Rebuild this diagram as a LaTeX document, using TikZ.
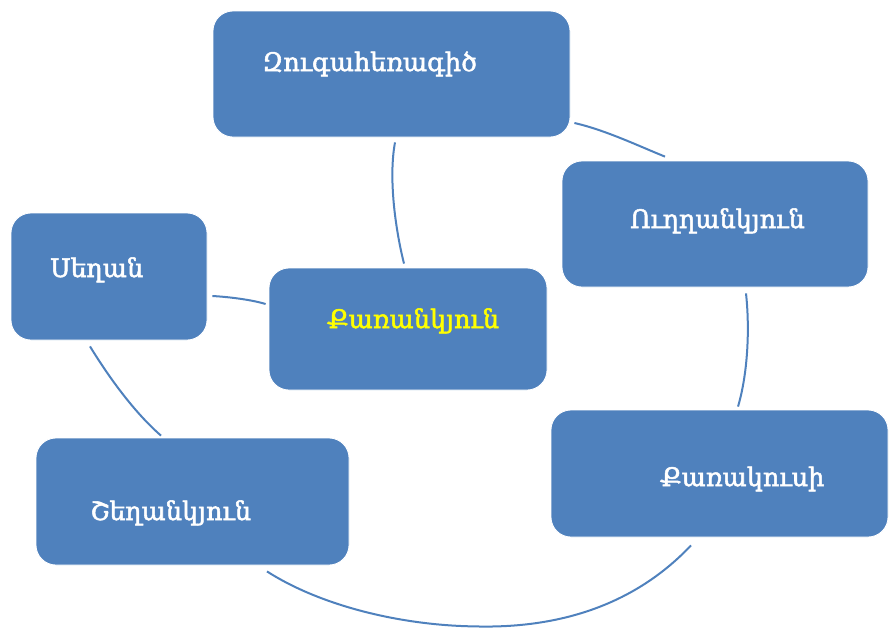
\documentclass[tikz,border=0pt]{standalone}
\usepackage{fontspec}
\setmainfont{DejaVu Serif}
\newfontfamily\armfont{DejaVu Serif}[FakeBold=2]
\usetikzlibrary{calc}
\definecolor{boxblue}{HTML}{4F81BD}
\definecolor{txtyellow}{HTML}{FFFF00}
\tikzset{
  box/.style={draw=white, line width=0.8pt, fill=boxblue, rounded corners=20pt, inner sep=0pt},
  lbl/.style={anchor=base west, inner sep=0pt, text=white, font=\armfont\fontsize{25.5}{30}\selectfont},
  arc/.style={draw=boxblue, line width=2pt}
}
\begin{document}
\begin{tikzpicture}[x=1pt,y=-1pt]
\useasboundingbox (0,0) rectangle (890,627);
% boxes
\node[box, minimum width=357pt, minimum height=126pt] (zug) at (391.5,74) {};
\node[box, minimum width=306pt, minimum height=126pt] (ugh) at (715,224) {};
\node[box, minimum width=196pt, minimum height=127pt] (seg) at (109,276.5) {};
\node[box, minimum width=278pt, minimum height=122pt] (qar) at (408,329) {};
\node[box, minimum width=313pt, minimum height=127pt] (she) at (192.5,501.5) {};
\node[box, minimum width=337pt, minimum height=127pt] (kus) at (719.5,473.5) {};
% labels
\node[lbl] (tzug) at (262,71) {Զուգահեռագիծ};
\node[lbl] (tugh) at (630,228) {Ուղղանկյուն};
\node[lbl] (tseg) at (50,277) {Սեղան};
\node[lbl, text=txtyellow] (tqar) at (327,328) {Քառանկյուն};
\node[lbl] (tshe) at (90,520) {Շեղանկյուն};
\node[lbl] (tkus) at (660,486) {Քառակուսի};
% arcs
\draw[arc] ($(zug.south)+(3.5,5)$) .. controls ($(zug.south)+(-3,40)$) and ($(qar.north)+(-13,-40)$) .. ($(qar.north)+(-4,-4)$);
\draw[arc] ($(zug.east)+(4,49)$) .. controls ($(zug.east)+(35,56)$) and ($(ugh.north)+(-75,-14)$) .. ($(ugh.north)+(-50,-4)$);
\draw[arc] ($(ugh.south)+(31,6)$) .. controls ($(ugh.south)+(35,43)$) and ($(kus.north)+(28,-35)$) .. ($(kus.north)+(18.5,-3)$);
\draw[arc] ($(kus.south)+(-28.5,8)$) .. controls ($(kus.south)+(-90,73)$) and ($(kus.south)+(-170,91)$) .. ($(she.south)+(282.5,61)$)
  .. controls ($(she.south)+(207.5,60)$) and ($(she.south)+(127.5,40)$) .. ($(she.south)+(74.5,6)$);
\draw[arc] ($(she.north)+(-31.5,-2)$) .. controls ($(she.north)+(-58,-25)$) and ($(seg.south)+(0,37)$) .. ($(seg.south)+(-19,6)$);
\draw[arc] ($(seg.east)+(5,19.5)$) .. controls ($(seg.east)+(23,20.5)$) and ($(qar.west)+(-16,-29)$) .. ($(qar.west)+(-3,-25)$);
\end{tikzpicture}
\end{document}
